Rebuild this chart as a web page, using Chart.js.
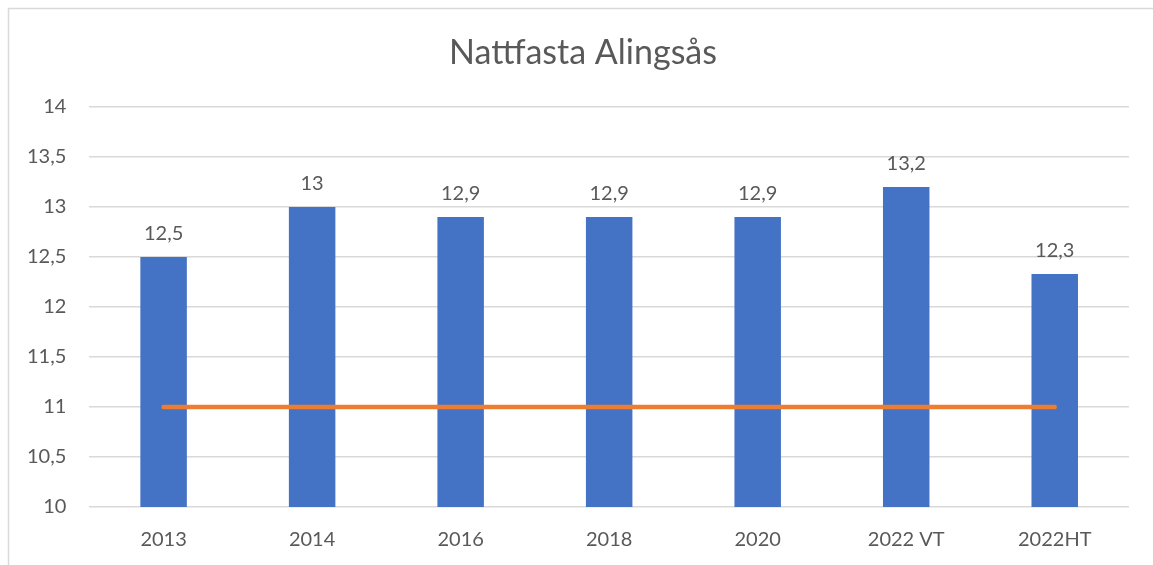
<!DOCTYPE html>
<html>
<head>
<meta charset="utf-8">
<script src="https://cdn.jsdelivr.net/npm/chart.js@4"></script>
<style>
html,body{margin:0;padding:0;background:#fff;overflow:hidden;}
#wrap{position:absolute;left:0;top:0;width:1153px;height:565px;}
</style>
</head>
<body>
<div id="wrap"><canvas id="c" width="1153" height="565"></canvas></div>
<script>
const categories = ['2013','2014','2016','2018','2020','2022 VT','2022HT'];
const values = [12.5, 13, 12.9, 12.9, 12.9, 13.2, 12.33];
const valueLabels = ['12,5','13','12,9','12,9','12,9','13,2','12,3'];
const targetValues = [11, 11, 11, 11, 11, 11, 11];
const chartTitle = 'Nattfasta Alingsås';

const textColor = '#595959';
const fontFamily = 'Lato, "Open Sans", sans-serif';

const frame = {
  id: 'frame',
  beforeDraw(chart) {
    const ctx = chart.ctx;
    ctx.save();
    ctx.fillStyle = '#ffffff';
    ctx.fillRect(0, 0, chart.width, chart.height);
    ctx.strokeStyle = '#d9d9d9';
    ctx.lineWidth = 1.5;
    ctx.beginPath();
    ctx.moveTo(8.5, chart.height);
    ctx.lineTo(8.5, 8.5);
    ctx.lineTo(chart.width, 8.5);
    ctx.stroke();
    ctx.restore();
  },
  afterDraw(chart) {
    const ctx = chart.ctx;
    ctx.save();
    ctx.font = '34px ' + fontFamily;
    ctx.fillStyle = textColor;
    ctx.textAlign = 'center';
    ctx.textBaseline = 'alphabetic';
    ctx.fillText(chartTitle, 583, 64);
    ctx.restore();
  }
};

const barLabels = {
  id: 'barLabels',
  afterDatasetsDraw(chart) {
    const meta = chart.getDatasetMeta(0);
    const ctx = chart.ctx;
    ctx.save();
    ctx.font = '20px ' + fontFamily;
    ctx.fillStyle = textColor;
    ctx.textAlign = 'center';
    ctx.textBaseline = 'bottom';
    meta.data.forEach((el, i) => {
      ctx.fillText(valueLabels[i], el.x, el.y - 13);
    });
    ctx.restore();
  }
};

new Chart(document.getElementById('c'), {
  data: {
    labels: categories,
    datasets: [
      {
        type: 'bar',
        data: values,
        backgroundColor: '#4472C4',
        categoryPercentage: 1,
        barPercentage: 0.313,
        order: 2
      },
      {
        type: 'line',
        data: targetValues,
        borderColor: '#ED7D31',
        borderWidth: 4.5,
        borderCapStyle: 'round',
        pointRadius: 0,
        pointHoverRadius: 0,
        fill: false,
        order: 1
      }
    ]
  },
  options: {
    responsive: false,
    animation: false,
    events: [],
    layout: { padding: { left: 4, right: 24, top: 107, bottom: -8 } },
    plugins: {
      legend: { display: false },
      tooltip: { enabled: false },
      title: { display: false }
    },
    scales: {
      x: {
        grid: { display: false, drawTicks: false },
        border: { display: false },
        ticks: {
          color: textColor,
          font: { family: fontFamily, size: 20 },
          padding: 21,
          maxRotation: 0
        }
      },
      y: {
        min: 10,
        max: 14,
        grid: { color: '#d9d9d9', lineWidth: 1.5, drawTicks: false },
        border: { display: false },
        ticks: {
          stepSize: 0.5,
          color: textColor,
          font: { family: fontFamily, size: 20 },
          padding: 23,
          callback: v => String(v).replace('.', ',')
        }
      }
    }
  },
  plugins: [frame, barLabels]
});
</script>
</body>
</html>
